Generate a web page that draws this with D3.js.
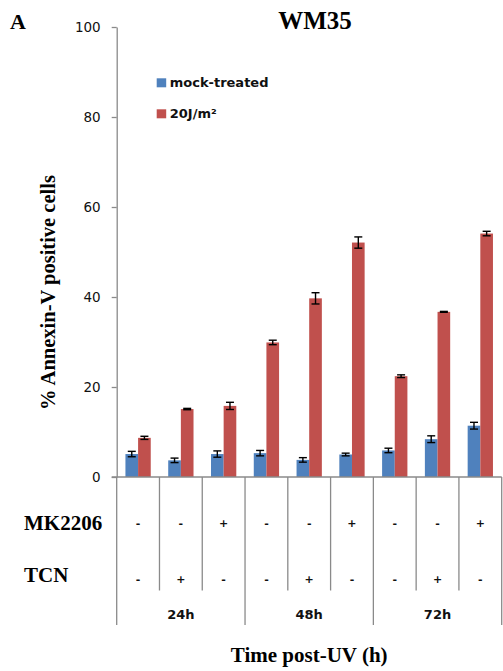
<!DOCTYPE html>
<html>
<head>
<meta charset="utf-8">
<script src="https://cdn.jsdelivr.net/npm/d3@7"></script>
<style>
  html, body { margin: 0; padding: 0; background: #fff; }
  svg { display: block; }
</style>
</head>
<body>
<div id="chart"></div>
<script>
// Treatment conditions per column
const mk2206 = ["-", "-", "+", "-", "-", "+", "-", "-", "+"];
const tcn    = ["-", "+", "-", "-", "+", "-", "-", "+", "-"];
const timePoints = ["24h", "48h", "72h"];

// % Annexin-V positive cells (mean and error)
const mockValues = [5.1, 3.7, 5.1, 5.3, 3.8, 5.0, 5.9, 8.4, 11.4];
const mockErrors = [0.6, 0.5, 0.7, 0.6, 0.5, 0.3, 0.5, 0.75, 0.75];
const uvValues   = [8.7, 15.1, 15.8, 29.9, 39.7, 52.1, 22.4, 36.7, 54.1];
const uvErrors   = [0.35, 0.15, 0.8, 0.5, 1.25, 1.25, 0.3, 0.1, 0.5];

const seriesNames = ["mock-treated", "20J/m²"];
const seriesColors = ["#4F81BD", "#C0504D"];
const yTicks = [0, 20, 40, 60, 80, 100];

const W = 503, H = 671;
const plotLeft = 116.7, plotRight = 501.7, plotTop = 27, plotBottom = 477;
const axisColor = "#8a8a8a";
const serif = "'Liberation Serif', 'Times New Roman', serif";
const sans = "'DejaVu Sans', Verdana, sans-serif";

const svg = d3.select("#chart").append("svg").attr("width", W).attr("height", H);

const cols = d3.range(mockValues.length);
const x = d3.scaleBand().domain(cols).range([plotLeft, plotRight]).paddingInner(0).paddingOuter(0);
const groupW = 25.3;
const xs = d3.scaleBand().domain([0, 1])
  .range([(x.bandwidth() - groupW) / 2, (x.bandwidth() + groupW) / 2]);
const y = d3.scaleLinear().domain([0, 100]).range([plotBottom, plotTop]);

// Y axis
const yAxis = svg.append("g")
  .attr("transform", `translate(${plotLeft},0)`)
  .call(d3.axisLeft(y).tickValues(yTicks).tickSize(5).tickPadding(11).tickSizeOuter(0));
yAxis.select(".domain").attr("stroke", axisColor).attr("stroke-width", 1.3);
yAxis.selectAll(".tick line").attr("stroke", axisColor).attr("stroke-width", 1.3);
yAxis.selectAll(".tick text")
  .attr("fill", "#111").attr("font-family", sans).attr("font-size", 13.5);

// Bars
const rows = cols.map(i => [
  { s: 0, v: mockValues[i], e: mockErrors[i] },
  { s: 1, v: uvValues[i], e: uvErrors[i] }
]);
const groups = svg.append("g").selectAll("g").data(rows).join("g")
  .attr("transform", (d, i) => `translate(${x(i)},0)`);
groups.selectAll("rect").data(d => d).join("rect")
  .attr("x", d => xs(d.s))
  .attr("width", xs.bandwidth())
  .attr("y", d => y(d.v))
  .attr("height", d => y(0) - y(d.v))
  .attr("fill", d => seriesColors[d.s]);

// Error bars
const capW = 8;
const eb = groups.selectAll("g.err").data(d => d).join("g").attr("class", "err")
  .attr("stroke", "#000").attr("stroke-width", 1.4);
eb.append("line")
  .attr("x1", d => xs(d.s) + xs.bandwidth() / 2).attr("x2", d => xs(d.s) + xs.bandwidth() / 2)
  .attr("y1", d => y(d.v + d.e)).attr("y2", d => y(d.v - d.e));
eb.append("line")
  .attr("x1", d => xs(d.s) + xs.bandwidth() / 2 - capW / 2).attr("x2", d => xs(d.s) + xs.bandwidth() / 2 + capW / 2)
  .attr("y1", d => y(d.v + d.e)).attr("y2", d => y(d.v + d.e));
eb.append("line")
  .attr("x1", d => xs(d.s) + xs.bandwidth() / 2 - capW / 2).attr("x2", d => xs(d.s) + xs.bandwidth() / 2 + capW / 2)
  .attr("y1", d => y(d.v - d.e)).attr("y2", d => y(d.v - d.e));

// Category axis and table grid
const grid = svg.append("g").attr("stroke", axisColor).attr("stroke-width", 1.3);
grid.append("line").attr("x1", plotLeft - 5).attr("x2", plotRight).attr("y1", y(0)).attr("y2", y(0));
const innerBottom = 590.5, groupBottom = 625;
d3.range(cols.length + 1).forEach(k => {
  const xx = k < cols.length ? x(k) : plotRight;
  grid.append("line").attr("x1", xx).attr("x2", xx)
    .attr("y1", y(0)).attr("y2", k % 3 === 0 ? groupBottom : innerBottom);
});

// +/- markers
const markRows = [{ vals: mk2206, cy: 523 }, { vals: tcn, cy: 579 }];
markRows.forEach(r => {
  svg.append("g").selectAll("text").data(r.vals).join("text")
    .attr("x", (d, i) => x(i) + x.bandwidth() / 2)
    .attr("y", r.cy)
    .attr("dy", "0.35em")
    .attr("text-anchor", "middle")
    .attr("font-family", sans).attr("font-weight", "bold").attr("font-size", 11)
    .attr("fill", "#111")
    .text(d => d);
});

// Time point labels
svg.append("g").selectAll("text").data(timePoints).join("text")
  .attr("x", (d, i) => (x(i * 3) + (i * 3 + 3 < cols.length ? x(i * 3 + 3) : plotRight)) / 2)
  .attr("y", 619)
  .attr("text-anchor", "middle")
  .attr("font-family", sans).attr("font-weight", "bold").attr("font-size", 13)
  .attr("fill", "#111")
  .text(d => d);

// Row labels
const rowLabels = [{ t: "MK2206", yb: 529.5 }, { t: "TCN", yb: 582 }];
svg.append("g").selectAll("text").data(rowLabels).join("text")
  .attr("x", 24).attr("y", d => d.yb)
  .attr("font-family", serif).attr("font-weight", "bold").attr("font-size", 21)
  .attr("fill", "#000")
  .text(d => d.t);

// Titles
svg.append("text").attr("x", 10).attr("y", 28.5)
  .attr("font-family", serif).attr("font-weight", "bold").attr("font-size", 22)
  .text("A");
svg.append("text").attr("x", 315).attr("y", 28.5).attr("text-anchor", "middle")
  .attr("font-family", serif).attr("font-weight", "bold").attr("font-size", 25)
  .text("WM35");
svg.append("text")
  .attr("transform", "translate(54.5,292.5) rotate(-90)")
  .attr("text-anchor", "middle")
  .attr("font-family", serif).attr("font-weight", "bold").attr("font-size", 20.5)
  .text("% Annexin-V positive cells");
svg.append("text").attr("x", (plotLeft + plotRight) / 2).attr("y", 661.5).attr("text-anchor", "middle")
  .attr("font-family", serif).attr("font-weight", "bold").attr("font-size", 21)
  .text("Time post-UV (h)");

// Legend
const legend = svg.append("g").selectAll("g").data(seriesNames).join("g")
  .attr("transform", (d, i) => `translate(156.7,${78.3 + i * 31})`);
legend.append("rect").attr("width", 9.5).attr("height", 9).attr("fill", (d, i) => seriesColors[i]);
legend.append("text").attr("x", 13).attr("y", 9)
  .attr("font-family", sans).attr("font-weight", "bold").attr("font-size", 13)
  .attr("fill", "#111")
  .text(d => d);
</script>
</body>
</html>
